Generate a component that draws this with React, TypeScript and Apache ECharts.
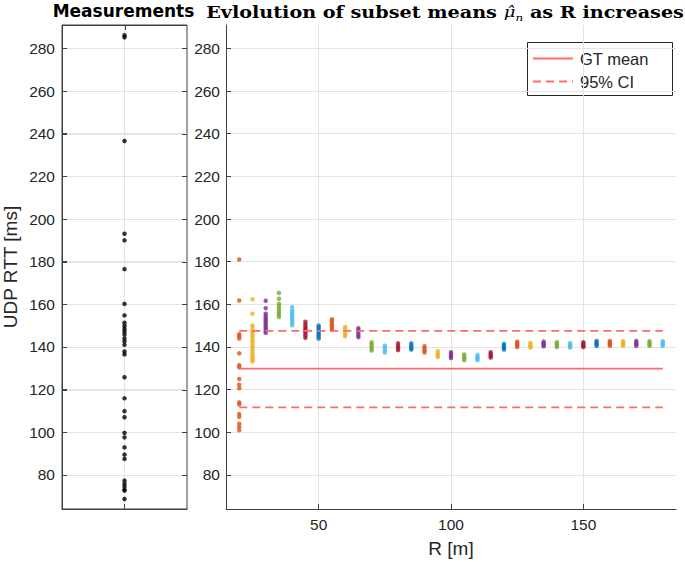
import React, { useEffect, useRef } from "react";
import * as echarts from "echarts";

// ---- data ----
const measurements = [
  286.2, 285.2, 236.6, 193.1, 190.0, 176.5, 160.2, 154.8, 151.4, 149.8, 148.5,
  147.3, 145.9, 144.1, 142.7, 141.0, 137.9, 136.5, 125.8, 115.9, 109.9, 107.0,
  99.7, 97.6, 92.9, 89.5, 87.5, 77.3, 75.8, 74.5, 73.1, 72.6, 68.7,
];

const rValues = [
  20, 25, 30, 35, 40, 45, 50, 55, 60, 65, 70, 75, 80, 85, 90, 95, 100, 105, 110,
  115, 120, 125, 130, 135, 140, 145, 150, 155, 160, 165, 170, 175, 180,
];

const subsetMeans: number[][] = [
  [181, 161.8, 146, 145, 144, 137, 131.5, 130.5, 125, 122.3, 120.6, 114, 113, 108.5, 107.2, 104, 102.5, 101],
  [162.4, 155.6, 150.1, 149, 147.5, 146.5, 145.4, 144.2, 143, 142, 140.5, 139.5, 138.3, 137, 136, 135, 134, 133.2],
  [161.7, 158.2, 155.6, 154.5, 153.5, 152.5, 151.5, 150.5, 149.5, 148.5, 147.5, 146.6],
  [165.3, 162.6, 160.3, 159.2, 158, 157, 156, 155, 154],
  [158.7, 157.2, 156.2, 155.2, 154.2, 153.2, 152.2, 151.2, 150.2],
  [151.8, 150.5, 149.5, 148.5, 147.5, 146.5, 145.5, 144.3],
  [150, 149, 148, 147, 146, 145, 144],
  [153, 152, 151, 150, 149, 148],
  [149.4, 148.3, 147.2, 146, 145],
  [148.8, 147.8, 146.6, 145.5, 144.6],
  [142.2, 141.2, 140.2, 139.2, 138.3],
  [140.6, 139.5, 138.4, 137.4],
  [141.7, 140.5, 139.5, 138.5],
  [141.7, 140.6, 139.6, 138.8],
  [140.3, 139.3, 138.3, 137.4],
  [138, 137, 136, 135.3],
  [137.5, 136.5, 135.5, 134.8],
  [136.5, 135.5, 134.6, 133.8],
  [136.3, 135.3, 134.5, 133.8],
  [137.5, 136.6, 135.8, 135.0],
  [141.4, 140.5, 139.6, 138.8],
  [142.5, 141.6, 140.8, 140.0],
  [141.9, 141.0, 140.3, 139.7],
  [142.5, 141.7, 140.9, 140.3],
  [142.2, 141.4, 140.6, 140.0],
  [141.8, 141.0, 140.3, 139.7],
  [142.2, 141.4, 140.6, 140.0],
  [142.8, 142.0, 141.2, 140.5],
  [142.8, 142.0, 141.2, 140.5],
  [142.7, 141.9, 141.1, 140.5],
  [142.8, 142.0, 141.2, 140.5],
  [142.7, 141.9, 141.1, 140.5],
  [142.7, 141.9, 141.1, 140.5],
];

const gtMean = 129.8;
const ciUpper = 147.5;
const ciLower = 111.7;
const rStart = 20;
const rEnd = 180;

const yTicks = [80, 100, 120, 140, 160, 180, 200, 220, 240, 260, 280];
const xTicks = [50, 100, 150];
const centerTick = [0];
const yMin = 64;
const yMax = 291;
const xMin = 15;
const xMax = 185;

const colorOrder = ["#D95319", "#EDB120", "#7E2F8E", "#77AC30", "#4DBEEE", "#A2142F", "#0072BD"];
const lineRed = "#ff6b6b";

const FONT = "'Liberation Sans', Arial, Helvetica, sans-serif";
const axisColor = "#404040";
const textColor = "#262626";
const gridColor = "#e4e4e4";

// panel layout (pixels)
const leftPanel = { x0: 62, x1: 187, top: 25, bottom: 509 };

export default function App() {
  const ref = useRef<HTMLDivElement>(null);

  useEffect(() => {
    if (!ref.current) return;
    const chart = echarts.init(ref.current, undefined, { renderer: "svg" });

    const labelStyle = { color: textColor, fontSize: 15.5, fontFamily: FONT };

    const clusterSeries = rValues.map((r, i) => ({
      type: "scatter",
      xAxisIndex: 1,
      yAxisIndex: 1,
      symbol: "circle",
      symbolSize: 4.5,
      itemStyle: { color: colorOrder[i % colorOrder.length] },
      data: subsetMeans[i].map((v) => [r, v]),
      z: 3,
    }));

    const refLine = (name: string, v: number, dashed: boolean) => ({
      type: "line",
      name,
      xAxisIndex: 1,
      yAxisIndex: 1,
      symbol: "none",
      lineStyle: { color: lineRed, width: 1.8, type: dashed ? [8, 5] : "solid" },
      data: [
        [rStart, v],
        [rEnd, v],
      ],
      z: 4,
    });

    const tick = (vals: number[]) => ({
      show: true,
      inside: true,
      length: 5,
      customValues: vals,
      lineStyle: { color: axisColor },
    });
    const line = { show: true, onZero: false, lineStyle: { color: axisColor, width: 1 } };

    const staticGraphic: any[] = [
      {
        type: "text",
        x: 123.5,
        y: 11,
        style: {
          text: "Measurements",
          fontFamily: "'DejaVu Sans', 'Liberation Sans', sans-serif",
          fontSize: 17,
          fontWeight: "bold",
          fill: "#000000",
          align: "center",
          verticalAlign: "middle",
        },
      },
      {
        type: "text",
        x: 445,
        y: 12,
        scaleX: 1.2,
        style: {
          text: "{a|Evlolution of subset means }{mu|\u03BC\u0302}{sub|n}{a| as R increases}",
          align: "center",
          verticalAlign: "middle",
          rich: {
            a: { fontFamily: "'DejaVu Serif', serif", fontWeight: "bold", fontSize: 16, fill: "#000", lineHeight: 22, verticalAlign: "middle" },
            mu: { fontFamily: "'DejaVu Serif', serif", fontStyle: "italic", fontSize: 15, fill: "#000", lineHeight: 22, verticalAlign: "middle" },
            sub: { fontFamily: "'DejaVu Serif', serif", fontStyle: "italic", fontSize: 10, fill: "#000", lineHeight: 12, verticalAlign: "bottom" },
          },
        },
      },
      {
        type: "group",
        z: 100,
        children: [
          {
            type: "rect",
            shape: { x: 527.5, y: 42.5, width: 145, height: 53 },
            style: { fill: "#ffffff", stroke: textColor, lineWidth: 1 },
          },
          {
            type: "line",
            shape: { x1: 533, y1: 58.5, x2: 573, y2: 58.5 },
            style: { stroke: lineRed, lineWidth: 1.8 },
          },
          {
            type: "line",
            shape: { x1: 533, y1: 81.5, x2: 573, y2: 81.5 },
            style: { stroke: lineRed, lineWidth: 1.8, lineDash: [8, 5] },
          },
          {
            type: "text",
            x: 580,
            y: 58.5,
            style: { text: "GT mean", fontFamily: FONT, fontSize: 16.5, fill: textColor, verticalAlign: "middle" },
          },
          {
            type: "text",
            x: 580,
            y: 81.5,
            style: { text: "95% CI", fontFamily: FONT, fontSize: 16.5, fill: textColor, verticalAlign: "middle" },
          },
        ],
      },
    ];

    chart.setOption({
      animation: false,
      backgroundColor: "#ffffff",
      grid: [
        {
          left: leftPanel.x0,
          right: 685 - leftPanel.x1,
          top: leftPanel.top,
          bottom: 562 - leftPanel.bottom,
          show: true,
          borderColor: axisColor,
          borderWidth: 1,
          containLabel: false,
          outerBoundsMode: "none",
        },
        { left: 226, right: 685 - 676, top: 25, bottom: 562 - 509, containLabel: false, outerBoundsMode: "none" },
      ],
      xAxis: [
        {
          gridIndex: 0,
          type: "value",
          min: -1,
          max: 1,
          position: "bottom",
          axisLine: line,
          axisTick: tick(centerTick),
          axisLabel: { show: false, customValues: centerTick },
          splitLine: { show: true, lineStyle: { color: gridColor } },
        },
        {
          gridIndex: 1,
          type: "value",
          min: xMin,
          max: xMax,
          position: "bottom",
          name: "R [m]",
          nameLocation: "middle",
          nameGap: 30,
          nameTextStyle: { color: textColor, fontSize: 19, fontFamily: FONT },
          axisLine: line,
          axisTick: tick(xTicks),
          axisLabel: { ...labelStyle, margin: 7, customValues: xTicks },
          splitLine: { show: true, lineStyle: { color: gridColor } },
        },
      ],
      yAxis: [
        {
          gridIndex: 0,
          type: "value",
          min: yMin,
          max: yMax,
          position: "left",
          name: "UDP RTT [ms]",
          nameLocation: "middle",
          nameGap: 42,
          nameTextStyle: { color: textColor, fontSize: 19, fontFamily: FONT },
          axisLine: line,
          axisTick: tick(yTicks),
          axisLabel: { ...labelStyle, margin: 7, customValues: yTicks },
          splitLine: { show: true, lineStyle: { color: gridColor } },
        },
        {
          gridIndex: 1,
          type: "value",
          min: yMin,
          max: yMax,
          position: "left",
          axisLine: line,
          axisTick: tick(yTicks),
          axisLabel: { ...labelStyle, margin: 6, customValues: yTicks },
          splitLine: { show: true, lineStyle: { color: gridColor } },
        },
      ],
      series: [
        {
          type: "scatter",
          xAxisIndex: 0,
          yAxisIndex: 0,
          symbol: "circle",
          symbolSize: 4.5,
          itemStyle: { color: "#000000" },
          data: measurements.map((v) => [0, v]),
          z: 3,
        },
        refLine("GT mean", gtMean, false),
        refLine("95% CI upper", ciUpper, true),
        refLine("95% CI lower", ciLower, true),
        ...clusterSeries,
      ],
      graphic: staticGraphic,
    });

    // Grid lines and tick marks of the measurements panel, placed through the panel's y scale.
    const panelMarks: any[] = [];
    yTicks.forEach((v) => {
      const py = chart.convertToPixel({ yAxisIndex: 0 }, v) as unknown as number;
      if (typeof py !== "number" || !isFinite(py)) return;
      const y = Math.round(py) + 0.5;
      panelMarks.push({
        type: "line",
        z: 2,
        silent: true,
        shape: { x1: leftPanel.x0, y1: y, x2: leftPanel.x1, y2: y },
        style: { stroke: gridColor, lineWidth: 1 },
      });
      panelMarks.push({
        type: "line",
        z: 2,
        silent: true,
        shape: { x1: leftPanel.x0, y1: y, x2: leftPanel.x0 + 5, y2: y },
        style: { stroke: axisColor, lineWidth: 1 },
      });
      panelMarks.push({
        type: "line",
        z: 2,
        silent: true,
        shape: { x1: leftPanel.x1 - 5, y1: y, x2: leftPanel.x1, y2: y },
        style: { stroke: axisColor, lineWidth: 1 },
      });
    });
    const pxCenter = chart.convertToPixel({ xAxisIndex: 0 }, 0) as unknown as number;
    if (typeof pxCenter === "number" && isFinite(pxCenter)) {
      const x = Math.round(pxCenter) + 0.5;
      panelMarks.push({
        type: "line",
        z: 2,
        silent: true,
        shape: { x1: x, y1: leftPanel.top, x2: x, y2: leftPanel.top + 5 },
        style: { stroke: axisColor, lineWidth: 1 },
      });
      panelMarks.push({
        type: "line",
        z: 2,
        silent: true,
        shape: { x1: leftPanel.x0, y1: leftPanel.top + 0.5, x2: leftPanel.x1, y2: leftPanel.top + 0.5 },
        style: { stroke: axisColor, lineWidth: 1 },
      });
    }
    chart.setOption({ graphic: [...staticGraphic, ...panelMarks] });

    return () => chart.dispose();
  }, []);

  return <div ref={ref} style={{ width: 685, height: 562, position: "absolute", left: 0, top: 0 }} />;
}
